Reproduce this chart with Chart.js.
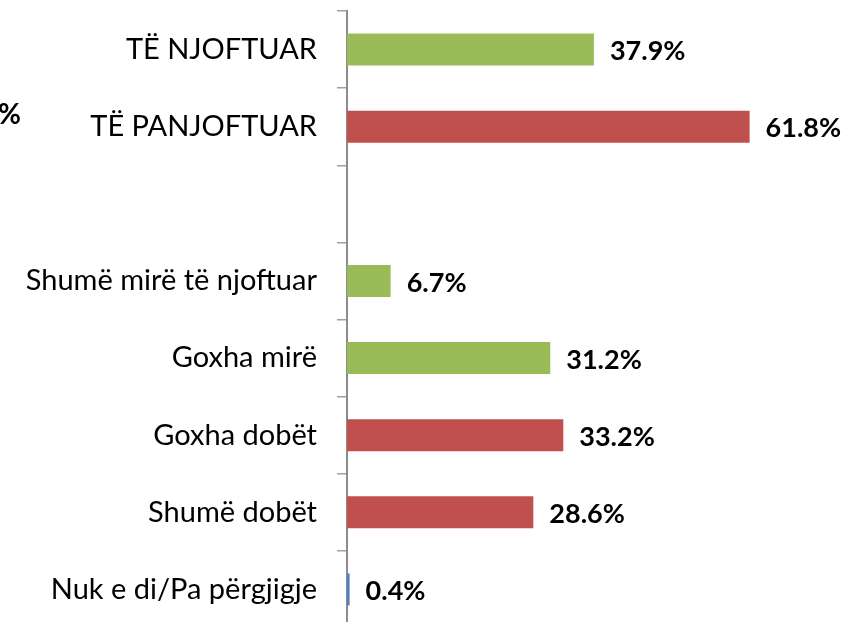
<!DOCTYPE html>
<html>
<head>
<meta charset="utf-8">
<script src="https://cdn.jsdelivr.net/npm/chart.js@4"></script>
<style>
  html, body { margin: 0; padding: 0; background: #fff; overflow: hidden; }
  #wrap { position: relative; width: 848px; height: 640px; }
  #cut { position: absolute; left: -2px; top: 96px; font: bold 28px Lato, sans-serif; color: #000; }
</style>
</head>
<body>
<div id="wrap">
  <canvas id="c"></canvas>
  <div id="cut">%</div>
</div>
<script>
const categories = ["TË NJOFTUAR", "TË PANJOFTUAR", "", "Shumë mirë të njoftuar", "Goxha mirë", "Goxha dobët", "Shumë dobët", "Nuk e di/Pa përgjigje"];
const values = [37.9, 61.8, null, 6.7, 31.2, 33.2, 28.6, 0.4];
const barColors = ["#9BBB59", "#C0504D", "#9BBB59", "#9BBB59", "#9BBB59", "#C0504D", "#C0504D", "#4F81BD"];

const labelPlugin = {
  id: 'valueLabels',
  afterDatasetsDraw(chart) {
    const ctx = chart.ctx;
    const meta = chart.getDatasetMeta(0);
    ctx.save();
    ctx.font = 'bold 27px Lato, sans-serif';
    ctx.fillStyle = '#000';
    ctx.textAlign = 'left';
    ctx.textBaseline = 'middle';
    meta.data.forEach((bar, i) => {
      const v = values[i];
      if (v === null || v === undefined) return;
      ctx.fillText(v.toFixed(1) + '%', bar.x + 16, bar.y + 2);
    });
    ctx.restore();
  }
};

new Chart(document.getElementById('c'), {
  type: 'bar',
  data: {
    labels: categories,
    datasets: [{
      data: values,
      backgroundColor: barColors,
      borderWidth: 0,
      barPercentage: 0.415,
      categoryPercentage: 1.0
    }]
  },
  options: {
    indexAxis: 'y',
    responsive: true,
    maintainAspectRatio: false,
    animation: false,
    layout: { padding: { top: 11, bottom: 12, left: 0, right: 0 } },
    plugins: { legend: { display: false }, tooltip: { enabled: false } },
    scales: {
      x: { display: false, min: 0, max: 76.9 },
      y: {
        afterFit(scale) { scale.width = 347; scale.paddingTop = 0; scale.paddingBottom = 0; },
        grid: { drawOnChartArea: false, drawTicks: true, tickLength: 10, color: '#A0A0A0', lineWidth: 1.5, offset: true },
        border: { display: true, color: '#8C8C8C', width: 2 },
        ticks: { color: '#000', padding: 20, font: { family: 'Lato', size: 29 } }
      }
    }
  },
  plugins: [labelPlugin]
});
</script>
</body>
</html>
